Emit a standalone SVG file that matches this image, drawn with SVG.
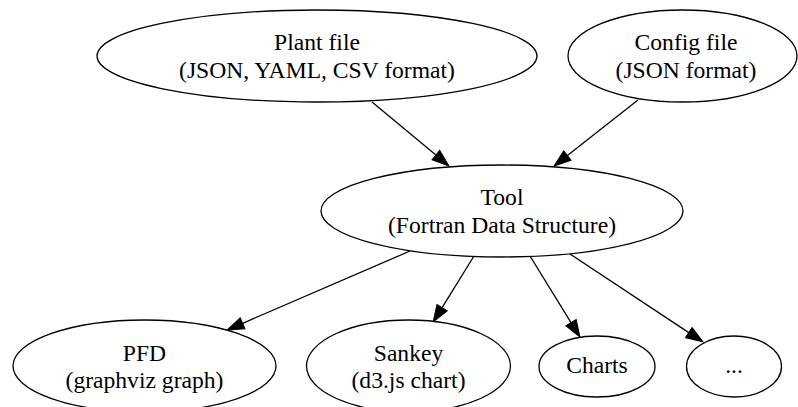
<svg xmlns="http://www.w3.org/2000/svg" width="798" height="407" viewBox="0 0 798 407">
<style>
.n ellipse{fill:#fff;stroke:#000;stroke-width:1.3}
.n text{font-size:23.6px;fill:#000;text-anchor:middle}
.e line{stroke:#000;stroke-width:1.3}
</style>
<defs>
<marker id="arr" markerUnits="userSpaceOnUse" markerWidth="18" markerHeight="14" refX="0" refY="6" orient="auto" overflow="visible">
<path d="M0,0 L17,6 L0,12 z" fill="#000" stroke="#000" stroke-width="1"/>
</marker>
</defs>
<rect width="798" height="407" fill="#fff"/>
<g id="edges" class="e">
<line x1="372" y1="102" x2="435.9" y2="155.1" marker-end="url(#arr)"/>
<line x1="638" y1="100" x2="567.4" y2="155.5" marker-end="url(#arr)"/>
<line x1="410" y1="251" x2="242.6" y2="323.3" marker-end="url(#arr)"/>
<line x1="474" y1="256" x2="442.1" y2="307.6" marker-end="url(#arr)"/>
<line x1="530" y1="256" x2="571.0" y2="322.6" marker-end="url(#arr)"/>
<line x1="570" y1="254" x2="688.8" y2="332.6" marker-end="url(#arr)"/>
</g>
<g font-family="Liberation Serif, DejaVu Serif, serif">
<g id="plant" class="n">
<ellipse cx="317" cy="56" rx="220" ry="46"/>
<text x="317" y="50">Plant file</text>
<text x="317" y="78">(JSON, YAML, CSV format)</text>
</g>
<g id="config" class="n">
<ellipse cx="682.5" cy="56" rx="114.5" ry="46"/>
<text x="686" y="50">Config file</text>
<text x="686" y="78">(JSON format)</text>
</g>
<g id="tool" class="n">
<ellipse cx="502" cy="211" rx="181" ry="46"/>
<text x="502" y="205">Tool</text>
<text x="502" y="233">(Fortran Data Structure)</text>
</g>
<g id="pfd" class="n">
<ellipse cx="144.5" cy="366" rx="131.5" ry="46"/>
<text x="144.5" y="361">PFD</text>
<text x="144.5" y="388">(graphviz graph)</text>
</g>
<g id="sankey" class="n">
<ellipse cx="408.5" cy="366" rx="102" ry="46"/>
<text x="408.5" y="361">Sankey</text>
<text x="408.5" y="388">(d3.js chart)</text>
</g>
<g id="charts" class="n">
<ellipse cx="597" cy="366.5" rx="58" ry="30.5"/>
<text x="597" y="373">Charts</text>
</g>
<g id="more" class="n">
<ellipse cx="734" cy="366.5" rx="47.5" ry="30.5"/>
<text x="734" y="373">...</text>
</g>
</g>
</svg>
